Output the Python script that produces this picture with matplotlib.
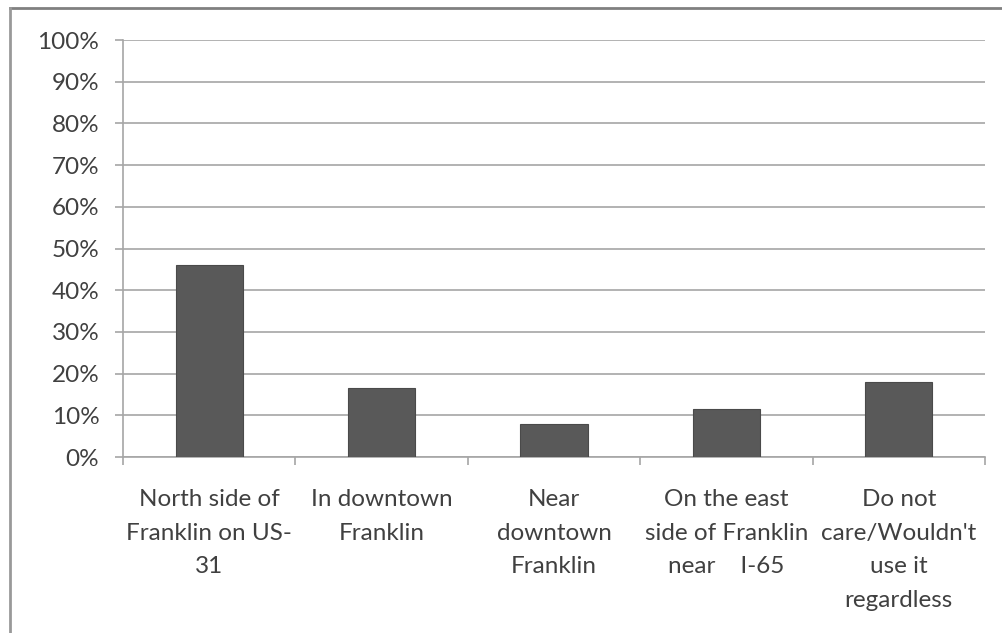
import matplotlib.pyplot as plt
from matplotlib.lines import Line2D

categories = [
    "North side of\nFranklin on US-\n31",
    "In downtown\nFranklin",
    "Near\ndowntown\nFranklin",
    "On the east\nside of Franklin\nnear    I-65",
    "Do not\ncare/Wouldn't\nuse it\nregardless",
]
shares = [46.0, 16.5, 7.8, 11.4, 17.9]
y_ticks = list(range(0, 101, 10))

text_color = "#404040"
grid_color = "#a6a6a6"

fig = plt.figure(figsize=(10.03, 6.33), dpi=100)
ax = fig.add_axes([0.1226, 0.278, 0.8594, 0.6588])

x = list(range(len(categories)))
ax.bar(x, shares, width=0.39, color="#595959", edgecolor="#4a4a4a",
       linewidth=0.8, zorder=3)

ax.set_xlim(-0.5, len(categories) - 0.5)
ax.set_ylim(0, 100)
ax.set_yticks(y_ticks)
ax.set_yticklabels([f"{v}%" for v in y_ticks])
ax.grid(axis="y", color=grid_color, linewidth=1.2, zorder=0)

ax.set_xticks(x)
ax.set_xticklabels(categories, linespacing=1.75)
ax.set_xticks([i - 0.5 for i in range(len(categories) + 1)], minor=True)
ax.tick_params(axis="x", which="major", length=0, pad=23)
ax.tick_params(axis="x", which="minor", length=6, color=grid_color, width=1.2)
ax.tick_params(axis="y", length=6, color=grid_color, width=1.2, pad=11)

for lab in ax.get_xticklabels() + ax.get_yticklabels():
    lab.set_fontfamily("Lato")
    lab.set_fontsize(17.5)
    lab.set_color(text_color)
for lab in ax.get_xticklabels():
    lab.set_verticalalignment("top")

for side in ["top", "right"]:
    ax.spines[side].set_visible(False)
for side in ["left", "bottom"]:
    ax.spines[side].set_color(grid_color)
    ax.spines[side].set_linewidth(1.2)

# outer frame (only top and left edges visible in the original)
fig.add_artist(Line2D([0.01, 1.0], [0.987, 0.987], transform=fig.transFigure,
                      color="#808080", linewidth=2))
fig.add_artist(Line2D([0.01, 0.01], [0.0, 0.987], transform=fig.transFigure,
                      color="#999999", linewidth=2))

plt.savefig("out.png", dpi=100)
plt.close()
